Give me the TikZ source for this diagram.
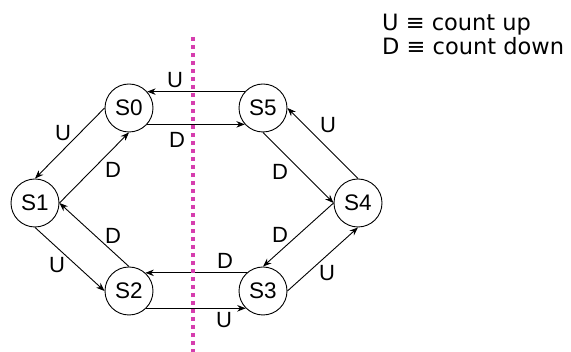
\documentclass[tikz,border=0pt]{standalone}
\usepackage{fontspec}
\setmainfont{Liberation Sans}
\newfontfamily\keyfont{DejaVu Sans}
\usetikzlibrary{arrows.meta,positioning}
\definecolor{cutpink}{RGB}{214,61,174}

\begin{document}
\begin{tikzpicture}[
  x=1pt, y=-1pt,
  state/.style={circle, draw, line width=0.9pt, minimum size=48pt, inner sep=0pt, font=\fontsize{22.5}{22.5}\selectfont},
  lbl/.style={inner sep=0pt, font=\fontsize{22}{22}\selectfont},
  key/.style={inner sep=0pt, anchor=base west, font=\keyfont\fontsize{22.5}{22.5}\selectfont},
  trans/.style={-{Stealth[length=8.5pt,width=6.5pt]}, line width=0.9pt},
  cut/.style={draw=cutpink, line width=4pt, dash pattern=on 4pt off 4pt}
]
\useasboundingbox (0,0) rectangle (571,352);

% counter states
\node[state] (S0) at (129,108) {S0};
\node[state] (S1) at (35,203) {S1};
\node[state] (S2) at (129,291) {S2};
\node[state] (S3) at (263,291) {S3};
\node[state] (S4) at (358,203) {S4};
\node[state] (S5) at (263,108) {S5};

% transitions
\draw[trans] (S0.west) -- (S1.north);
\draw[trans] (S1.east) -- (S0.south);
\draw[trans] (S1.south) -- (S2.west);
\draw[trans] (S2.north) -- (S1.east);
\draw[trans] (S5.138) -- (S0.42);
\draw[trans] (S0.-42) -- (S5.-138);
\draw[trans] (S5.south) -- (S4.west);
\draw[trans] (S4.north) -- (S5.east);
\draw[trans] (S4.west) -- (S3.north);
\draw[trans] (S3.east) -- (S4.south);
\draw[trans] (S3.132) -- (S2.48);
\draw[trans] (S2.-45) -- (S3.-135);

% transition labels
\node[lbl] (u50) at (175,80) {U};
\node[lbl] (d05) at (177,140) {D};
\node[lbl] (u01) at (63,133) {U};
\node[lbl] (d10) at (113,170) {D};
\node[lbl] (d21) at (113,236) {D};
\node[lbl] (u12) at (57,265) {U};
\node[lbl] (d32) at (225,261) {D};
\node[lbl] (u23) at (224,320) {U};
\node[lbl] (u45) at (328,125) {U};
\node[lbl] (d54) at (280,172) {D};
\node[lbl] (d43) at (280,235) {D};
\node[lbl] (u34) at (327,273) {U};

% key
\node[key] (keyup) at (382,31) {U ≡ count up};
\node[key] (keydown) at (382,55) {D ≡ count down};

% dotted divider
\coordinate (cuttop) at (192.5,37);
\coordinate (cutbot) at (192.5,352);
\draw[cut] (cuttop) -- (cutbot);

\end{tikzpicture}
\end{document}
